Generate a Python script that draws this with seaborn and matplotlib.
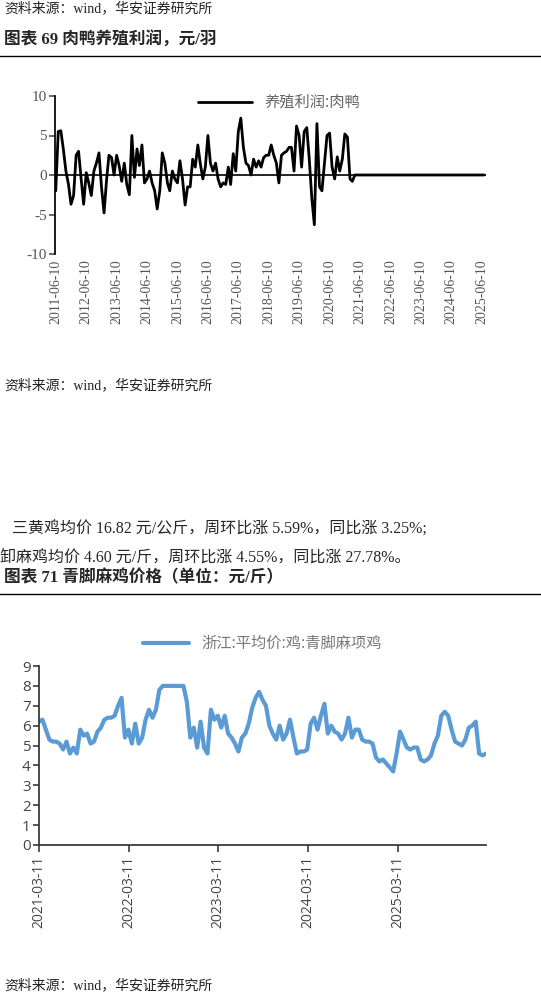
import numpy as np
import pandas as pd
import seaborn as sns
import matplotlib.pyplot as plt
import matplotlib.dates as mdates

sns.set_theme(style="white")
plt.rcParams['font.family'] = ['Liberation Serif', 'Noto Sans CJK SC', 'DejaVu Sans']
plt.rcParams['axes.unicode_minus'] = False

# --- chart 69: duck breeding profit, monthly from 2011-06
duck_profit = [
    -2, 5.5, 5.6, 3.2, 0.5, -1.2, -3.7, -2.6, 2.5, 3, -0.5, -3.7,
    0.3, -1, -2.6, 0.5, 1.5, 2.8, -1.5, -4.8, -0.5, 2.5, 2.2, 0,
    2.5, 1.2, -0.8, 1.5, -1.2, -2.5, 5, -0.3, 3.3, 1.2, 3.8, -1,
    -0.5, 0.5, -1, -2, -4.3, -2, 2.8, 1.5, -1, -2, 0.5, -0.5,
    -1, 1.8, -0.5, -3.8, -1.5, -1.5, 2, 1, 3.8, 1.5, -0.5, 1,
    5, 1.5, 0.5, 1.5, -0.5, -1.5, -1, -1.2, 1, -1.2, 2.7, 0.5,
    5.5, 7.2, 3.5, 1.5, 1.2, 0, 2, 1, 1.8, 1, 2.2, 2.5,
    2.5, 3.8, 2.5, 1.5, -1, 2.5, 2.8, 3, 3.5, 3.5, 0.5, 6.2,
    5, 1, 5.5, 6, 2, -3, -6.3, 6.5, -1.5, -2, 1.5, 5,
    5.3, 1, -0.5, 2.3, 0.5, 2, 5.2, 4.8, -0.5, -0.8,
] + [0] * 52
duck_dates = pd.date_range("2011-06-01", periods=len(duck_profit), freq="MS") + pd.Timedelta(days=9)
duck_ticks = pd.date_range("2011-06-01", periods=15, freq="12MS") + pd.Timedelta(days=9)

# --- chart 71: green-foot hemp chicken price, every 14 days from 2021-03-11
chicken_price = [
    6.2, 6.3, 5.8, 5.3, 5.2, 5.2, 5.1, 4.8, 5.2, 4.6, 4.9, 4.6, 5.8, 5.5, 5.6, 5.1,
    5.2, 5.7, 5.9, 6.3, 6.4, 6.4, 6.5, 7.0, 7.4, 5.4, 5.8, 5.1, 6.1, 5.1, 5.4, 6.3,
    6.8, 6.4, 6.8, 7.8, 8, 8, 8, 8, 8, 8, 8, 7.2, 5.4, 5.9, 4.9, 6.2,
    4.9, 4.6, 6.8, 6.3, 6.5, 5.9, 6.5, 5.6, 5.4, 5.1, 4.7, 5.4, 5.6, 6.1, 6.9, 7.4,
    7.7, 7.3, 7.0, 6.0, 5.6, 5.3, 6.0, 5.3, 5.6, 6.3, 5.4, 4.6, 4.7, 4.7, 4.8, 6.1,
    6.4, 5.8, 6.5, 7.1, 5.6, 6.0, 5.7, 5.6, 5.3, 5.6, 6.4, 5.4, 5.8, 5.8, 5.3, 5.2,
    5.2, 5.1, 4.4, 4.2, 4.3, 4.1, 3.9, 3.7, 4.6, 5.7, 5.3, 4.9, 4.8, 4.9, 4.9, 4.3,
    4.2, 4.3, 4.5, 5.1, 5.5, 6.5, 6.7, 6.5, 5.8, 5.2, 5.1, 5.0, 5.3, 5.9, 6.0, 6.2,
    4.6, 4.5, 4.6,
]
chicken_dates = pd.date_range("2021-03-11", periods=len(chicken_price), freq="14D")
chicken_ticks = pd.to_datetime(["2021-03-11", "2022-03-11", "2023-03-11", "2024-03-11", "2025-03-11"])

df1 = pd.DataFrame({"date": duck_dates, "v": duck_profit})
df2 = pd.DataFrame({"date": chicken_dates, "v": chicken_price})

fig = plt.figure(figsize=(5.41, 10), dpi=100)

def ftext(x, y, s, **kw):
    fig.text(x / 541, 1 - y / 1000, s, va="center", **kw)

def hline(y):
    fig.add_artist(plt.Line2D([0, 1], [1 - y / 1000] * 2, color="black", lw=1))

src = "资料来源：wind，华安证券研究所"
ftext(4, 8, src, fontsize=10, color="#222222")
ftext(4, 40, "图表 69 肉鸭养殖利润，元/羽", fontsize=12, fontweight="bold")
hline(56)
ftext(4, 385, src, fontsize=10, color="#222222")
ftext(12, 530, "三黄鸡均价 16.82 元/公斤，周环比涨 5.59%，同比涨 3.25%;", fontsize=11.5)
ftext(0, 558, "卸麻鸡均价 4.60 元/斤，周环比涨 4.55%，同比涨 27.78%。", fontsize=11.5)
ftext(4, 578, "图表 71 青脚麻鸡价格（单位：元/斤）", fontsize=12, fontweight="bold")
hline(594)
ftext(4, 985, src, fontsize=10, color="#222222")

# chart 1
ax1 = fig.add_axes([55 / 541, 0.746, 431 / 541, 0.158])
sns.lineplot(data=df1, x="date", y="v", ax=ax1, color="black", lw=2, label="养殖利润:肉鸭")
ax1.set_ylim(-10, 10)
ax1.set_yticks([-10, -5, 0, 5, 10])
ax1.set_xlim(pd.Timestamp("2011-06-01"), pd.Timestamp("2025-08-01"))
ax1.set_xticks(duck_ticks)
ax1.xaxis.set_major_formatter(mdates.DateFormatter("%Y-%m-%d"))
ax1.tick_params(axis="x", rotation=90, labelsize=10, colors="#555555", length=0, pad=4)
ax1.tick_params(axis="y", labelsize=11, colors="#555555", length=4, left=True, pad=2)
ax1.axhline(0, color="black", lw=1.2)
for s in ["top", "right", "bottom"]:
    ax1.spines[s].set_visible(False)
ax1.spines["left"].set_color("black")
ax1.set_xlabel("")
ax1.set_ylabel("")
leg = ax1.legend(loc="upper center", bbox_to_anchor=(0.52, 1.1), frameon=False,
                 fontsize=11, handlelength=3.5)
for t in leg.get_texts():
    t.set_color("#666666")
    t.set_fontfamily(["Noto Sans CJK SC"])

# chart 2
ax2 = fig.add_axes([39 / 541, 0.155, 447 / 541, 0.179])
sns.lineplot(data=df2, x="date", y="v", ax=ax2, color="#5b9bd5", lw=3, label="浙江:平均价:鸡:青脚麻项鸡")
ax2.set_ylim(0, 9)
ax2.set_yticks(range(10))
ax2.set_xlim(pd.Timestamp("2021-03-11"), chicken_dates[-1])
ax2.set_xticks(chicken_ticks)
ax2.xaxis.set_major_formatter(mdates.DateFormatter("%Y-%m-%d"))
for lab in ax2.get_xticklabels() + ax2.get_yticklabels():
    lab.set_fontfamily(["Open Sans"])
ax2.tick_params(axis="x", rotation=90, labelsize=10, colors="#444444", length=5, bottom=True, pad=3)
ax2.tick_params(axis="y", labelsize=11, colors="#444444", length=4, left=True, pad=2)
for s in ["top", "right"]:
    ax2.spines[s].set_visible(False)
for s in ["left", "bottom"]:
    ax2.spines[s].set_color("#333333")
ax2.set_xlabel("")
ax2.set_ylabel("")
leg2 = ax2.legend(loc="upper center", bbox_to_anchor=(0.5, 1.25), frameon=False,
                  fontsize=11, handlelength=3)
for t in leg2.get_texts():
    t.set_color("#777777")
    t.set_fontfamily(["Noto Sans CJK SC"])

fig.savefig("out.png", dpi=100)
